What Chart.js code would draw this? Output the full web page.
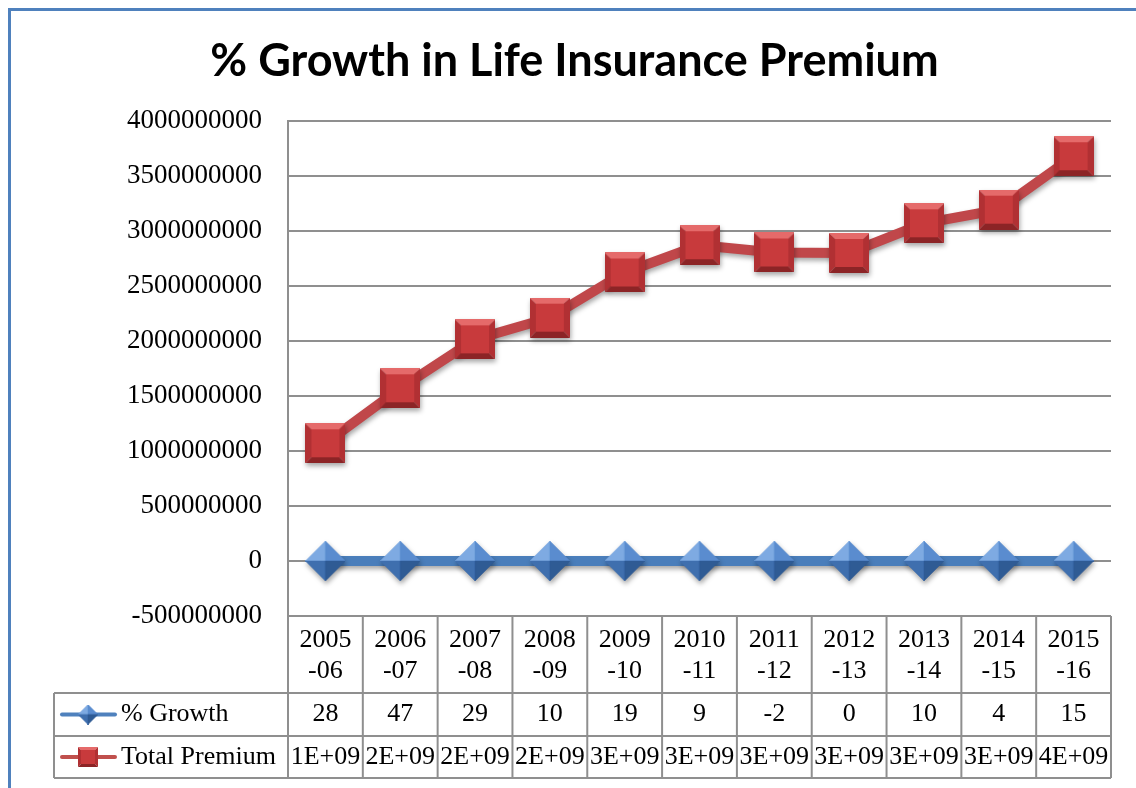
<!DOCTYPE html>
<html>
<head>
<meta charset="utf-8">
<script src="https://cdn.jsdelivr.net/npm/chart.js@4.4.1/dist/chart.umd.min.js"></script>
<style>
  body { margin: 0; background: #fff; }
</style>
</head>
<body>
<canvas id="grafico" width="1136" height="788"></canvas>
<script>
const periodos = ["2005-06", "2006-07", "2007-08", "2008-09", "2009-10", "2010-11",
  "2011-12", "2012-13", "2013-14", "2014-15", "2015-16"];
const crescimento = [28, 47, 29, 10, 19, 9, -2, 0, 10, 4, 15];
const premioTotal = [1070000000, 1570000000, 2015000000, 2212000000, 2623000000, 2871000000,
  2805000000, 2800000000, 3070000000, 3194000000, 3680000000];
const nomesSeries = ["% Growth", "Total Premium"];
const yMin = -500000000;
const yMax = 4000000000;
const yPasso = 500000000;

const fonteSerif = "Liberation Serif";
const corGrade = "#8f8f8f";

// marcadores com efeito 3D (como no Excel)
function quadrado(s, base, claro, medio, escuro) {
  const c = document.createElement("canvas");
  c.width = c.height = s;
  const g = c.getContext("2d");
  const b = Math.round(s * 0.16);
  const poly = (pts, cor) => {
    g.beginPath();
    g.moveTo(pts[0][0], pts[0][1]);
    pts.slice(1).forEach(p => g.lineTo(p[0], p[1]));
    g.closePath();
    g.fillStyle = cor;
    g.fill();
  };
  poly([[0, 0], [s, 0], [s - b, b], [b, b]], claro);
  poly([[0, 0], [b, b], [b, s - b], [0, s]], medio);
  poly([[s, 0], [s, s], [s - b, s - b], [s - b, b]], medio);
  poly([[0, s], [s, s], [s - b, s - b], [b, s - b]], escuro);
  g.fillStyle = base;
  g.fillRect(b, b, s - 2 * b, s - 2 * b);
  return c;
}

function losango(s, claro, medio, escuro, maisEscuro) {
  const c = document.createElement("canvas");
  c.width = c.height = s;
  const g = c.getContext("2d");
  const m = s / 2;
  const tri = (a, b, cor) => {
    g.beginPath();
    g.moveTo(m, m);
    g.lineTo(a[0], a[1]);
    g.lineTo(b[0], b[1]);
    g.closePath();
    g.fillStyle = cor;
    g.fill();
    g.strokeStyle = cor;
    g.lineWidth = 0.5;
    g.stroke();
  };
  tri([0, m], [m, 0], claro);
  tri([m, 0], [s, m], medio);
  tri([0, m], [m, s], escuro);
  tri([m, s], [s, m], maisEscuro);
  return c;
}

const marcaAzul = losango(40, "#7eaae2", "#5a8ccf", "#3f6fae", "#2f5b94");
const marcaVermelha = quadrado(40, "#c83a3c", "#e56a6a", "#b13033", "#8c2426");
const legAzul = losango(20, "#7eaae2", "#5a8ccf", "#3f6fae", "#2f5b94");
const legVermelha = quadrado(20, "#c83a3c", "#e56a6a", "#b13033", "#8c2426");

const sombra = {
  id: "sombra",
  beforeDatasetsDraw(chart) {
    const ctx = chart.ctx;
    ctx.save();
    ctx.shadowColor = "rgba(0,0,0,0.35)";
    ctx.shadowBlur = 5;
    ctx.shadowOffsetX = 1;
    ctx.shadowOffsetY = 3;
  },
  afterDatasetsDraw(chart) {
    chart.ctx.restore();
  }
};

const moldura = {
  id: "moldura",
  afterDraw(chart) {
    const ctx = chart.ctx;
    ctx.save();
    ctx.strokeStyle = "#4f81bd";
    ctx.lineWidth = 3;
    ctx.strokeRect(9.5, 9.5, 1300, 1000);
    ctx.restore();
  }
};

// tabela de dados abaixo do gráfico
const tabela = {
  id: "tabela",
  afterDraw(chart) {
    const ctx = chart.ctx;
    const area = chart.chartArea;
    const xs = chart.scales.x;
    const n = periodos.length;
    const bordas = [area.left];
    for (let i = 1; i < n; i++) {
      bordas.push((xs.getPixelForValue(i - 1) + xs.getPixelForValue(i)) / 2);
    }
    bordas.push(area.right);
    const y0 = area.bottom, y1 = 693, y2 = 736, y3 = 778;
    const esq = 54;

    ctx.save();
    ctx.strokeStyle = corGrade;
    ctx.lineWidth = 2;
    ctx.beginPath();
    ctx.moveTo(area.left, y0); ctx.lineTo(area.right, y0);
    ctx.moveTo(esq, y1); ctx.lineTo(area.right, y1);
    ctx.moveTo(esq, y2); ctx.lineTo(area.right, y2);
    ctx.moveTo(esq, y3); ctx.lineTo(area.right, y3);
    ctx.moveTo(esq, y1); ctx.lineTo(esq, y3);
    bordas.forEach(x => { ctx.moveTo(x, y0); ctx.lineTo(x, y3); });
    ctx.stroke();

    ctx.fillStyle = "#000";
    ctx.font = "26px '" + fonteSerif + "'";
    ctx.textAlign = "center";
    ctx.textBaseline = "middle";
    periodos.forEach((p, i) => {
      const x = xs.getPixelForValue(i);
      const k = p.indexOf("-");
      ctx.fillText(p.slice(0, k), x, 640);
      ctx.fillText(p.slice(k), x, 671);
      ctx.fillText(String(crescimento[i]), x, (y1 + y2) / 2);
      ctx.fillText(Math.round(premioTotal[i] / 1e9) + "E+09", x, (y2 + y3) / 2);
    });

    // legenda dentro da tabela
    const linhas = [
      { y: (y1 + y2) / 2, cor: "#4f81bd", img: legAzul, nome: nomesSeries[0] },
      { y: (y2 + y3) / 2, cor: "#c0504d", img: legVermelha, nome: nomesSeries[1] }
    ];
    linhas.forEach(l => {
      ctx.strokeStyle = l.cor;
      ctx.lineWidth = 4;
      ctx.lineCap = "round";
      ctx.beginPath();
      ctx.moveTo(62, l.y); ctx.lineTo(115, l.y);
      ctx.stroke();
      ctx.drawImage(l.img, 88 - 10, l.y - 10);
      ctx.textAlign = "left";
      ctx.fillText(l.nome, 121, l.y);
    });
    ctx.restore();
  }
};

new Chart(document.getElementById("grafico"), {
  type: "line",
  data: {
    labels: periodos,
    datasets: [
      {
        label: nomesSeries[0],
        data: crescimento,
        borderColor: "#4a7ebb",
        backgroundColor: "#4a7ebb",
        borderWidth: 10,
        pointStyle: marcaAzul,
        pointRadius: 20
      },
      {
        label: nomesSeries[1],
        data: premioTotal,
        borderColor: "#c0474a",
        backgroundColor: "#c0474a",
        borderWidth: 10,
        pointStyle: marcaVermelha,
        pointRadius: 20
      }
    ]
  },
  options: {
    responsive: false,
    animation: false,
    layout: {
      autoPadding: false,
      padding: { left: 38, right: 25, top: 0, bottom: 172 }
    },
    plugins: {
      legend: { display: false },
      tooltip: { enabled: false },
      title: {
        display: true,
        text: "% Growth in Life Insurance Premium",
        color: "#000",
        font: { family: "Lato", size: 45, weight: "bold" },
        padding: { top: 34, bottom: 33 }
      }
    },
    scales: {
      x: {
        display: false,
        offset: true
      },
      y: {
        min: yMin,
        max: yMax,
        afterFit(escala) { escala.width = 250; },
        ticks: {
          stepSize: yPasso,
          color: "#000",
          padding: 26,
          font: { family: fonteSerif, size: 27 },
          callback: v => String(v)
        },
        grid: { color: corGrade, lineWidth: 2, drawTicks: false },
        border: { color: corGrade, width: 2 }
      }
    }
  },
  plugins: [sombra, tabela, moldura]
});
</script>
</body>
</html>
